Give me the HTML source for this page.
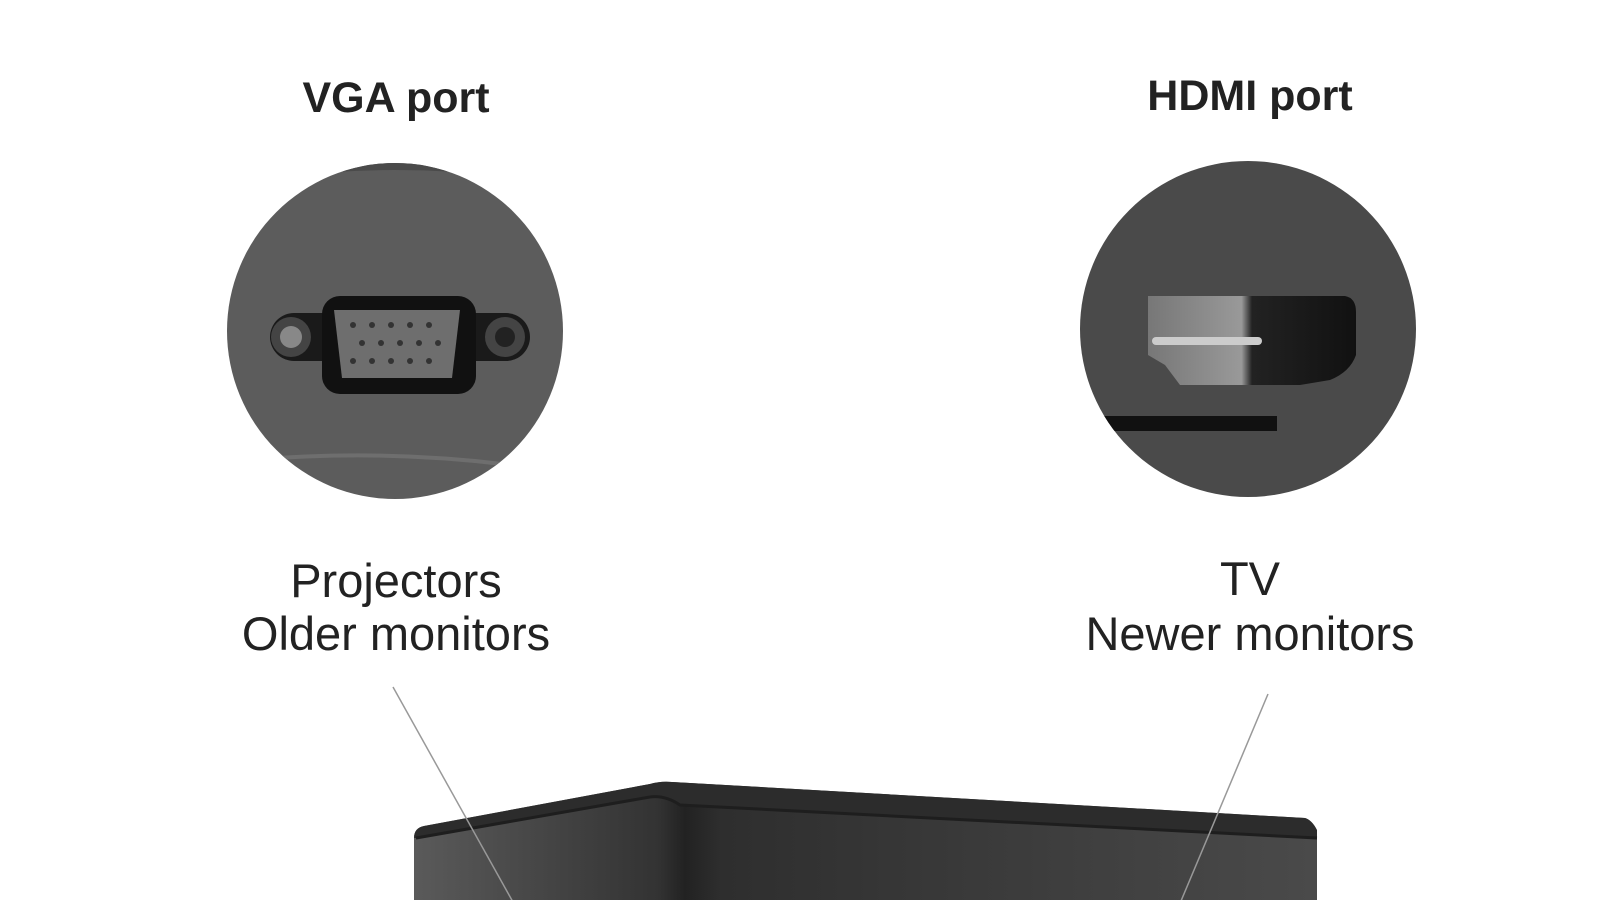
<!DOCTYPE html>
<html><head><meta charset="utf-8"><style>
html,body{margin:0;padding:0;background:#fff;}
svg{display:block;}
</style></head><body>
<svg width="1600" height="900" viewBox="0 0 1600 900" xmlns="http://www.w3.org/2000/svg">
<defs>
<linearGradient id="box" x1="0" x2="1" y1="0" y2="0">
<stop offset="0" stop-color="#5a5a5a"/><stop offset="0.27" stop-color="#333"/><stop offset="0.3" stop-color="#222"/><stop offset="0.34" stop-color="#2e2e2e"/><stop offset="1" stop-color="#4a4a4a"/>
</linearGradient>
<linearGradient id="hd" x1="0" x2="1"><stop offset="0" stop-color="#777"/><stop offset="0.45" stop-color="#999"/><stop offset="0.5" stop-color="#222"/><stop offset="1" stop-color="#111"/></linearGradient>
<clipPath id="c1"><circle cx="395" cy="331" r="168"/></clipPath>
<clipPath id="c2"><circle cx="1248" cy="329" r="168"/></clipPath>
</defs>
<g font-family="Liberation Sans, sans-serif" fill="#222" text-anchor="middle">
<text x="396" y="112" font-size="43" font-weight="bold">VGA port</text>
<text x="1250" y="110" font-size="43" font-weight="bold">HDMI port</text>
<text x="396" y="597" font-size="47">Projectors</text>
<text x="396" y="650" font-size="47">Older monitors</text>
<text x="1250" y="595" font-size="47">TV</text>
<text x="1250" y="650" font-size="47">Newer monitors</text>
</g>
<!-- VGA circle -->
<circle cx="395" cy="331" r="168" fill="#5c5c5c"/>
<g clip-path="url(#c1)">
<path d="M280 172 Q395 158 510 172" stroke="#4a4a4a" stroke-width="10" fill="none"/>
<path d="M230 462 Q395 445 560 472" stroke="#6e6e6e" stroke-width="4" fill="none"/>
</g>
<rect x="270" y="313" width="260" height="48" rx="24" fill="#1a1a1a"/>
<circle cx="291" cy="337" r="20" fill="#444"/><circle cx="291" cy="337" r="11" fill="#888"/>
<circle cx="505" cy="337" r="20" fill="#444"/><circle cx="505" cy="337" r="10" fill="#222"/>
<rect x="322" y="296" width="154" height="98" rx="18" fill="#111"/>
<path d="M334 310 H460 L452 378 H342 Z" fill="#6e6e6e"/>
<g fill="#333">
<circle cx="353" cy="325" r="3"/><circle cx="372" cy="325" r="3"/><circle cx="391" cy="325" r="3"/><circle cx="410" cy="325" r="3"/><circle cx="429" cy="325" r="3"/>
<circle cx="362" cy="343" r="3"/><circle cx="381" cy="343" r="3"/><circle cx="400" cy="343" r="3"/><circle cx="419" cy="343" r="3"/><circle cx="438" cy="343" r="3"/>
<circle cx="353" cy="361" r="3"/><circle cx="372" cy="361" r="3"/><circle cx="391" cy="361" r="3"/><circle cx="410" cy="361" r="3"/><circle cx="429" cy="361" r="3"/>
</g>
<!-- HDMI circle -->
<circle cx="1248" cy="329" r="168" fill="#4a4a4a"/>
<path d="M1148 296 H1345 Q1356 298 1356 312 V355 Q1350 372 1330 380 L1300 385 H1180 L1165 365 L1148 355 Z" fill="url(#hd)"/>
<rect x="1152" y="337" width="110" height="8" rx="4" fill="#ccc"/>
<g clip-path="url(#c2)"><rect x="1090" y="416" width="187" height="15" fill="#111"/></g>
<!-- box -->
<path d="M414 905 V838 Q414 828 424 826 L650 784 Q660 781 672 782 L1305 818 Q1312 820 1317 832 V905 Z" fill="url(#box)"/>
<path d="M416 838 L650 797 Q665 795 680 805 L1317 838 V830 Q1312 820 1305 818 L672 782 Q660 781 650 784 L424 826 Q414 828 414 838 Z" fill="#2c2c2c"/>
<path d="M416 838 L650 797 Q665 795 680 805 L1317 838" stroke="#1e1e1e" stroke-width="3" fill="none"/>
<!-- leader lines -->
<line x1="393" y1="687" x2="523" y2="920" stroke="#999" stroke-width="1.5"/>
<line x1="1268" y1="694" x2="1173" y2="920" stroke="#999" stroke-width="1.5"/>
</svg>
</body></html>
